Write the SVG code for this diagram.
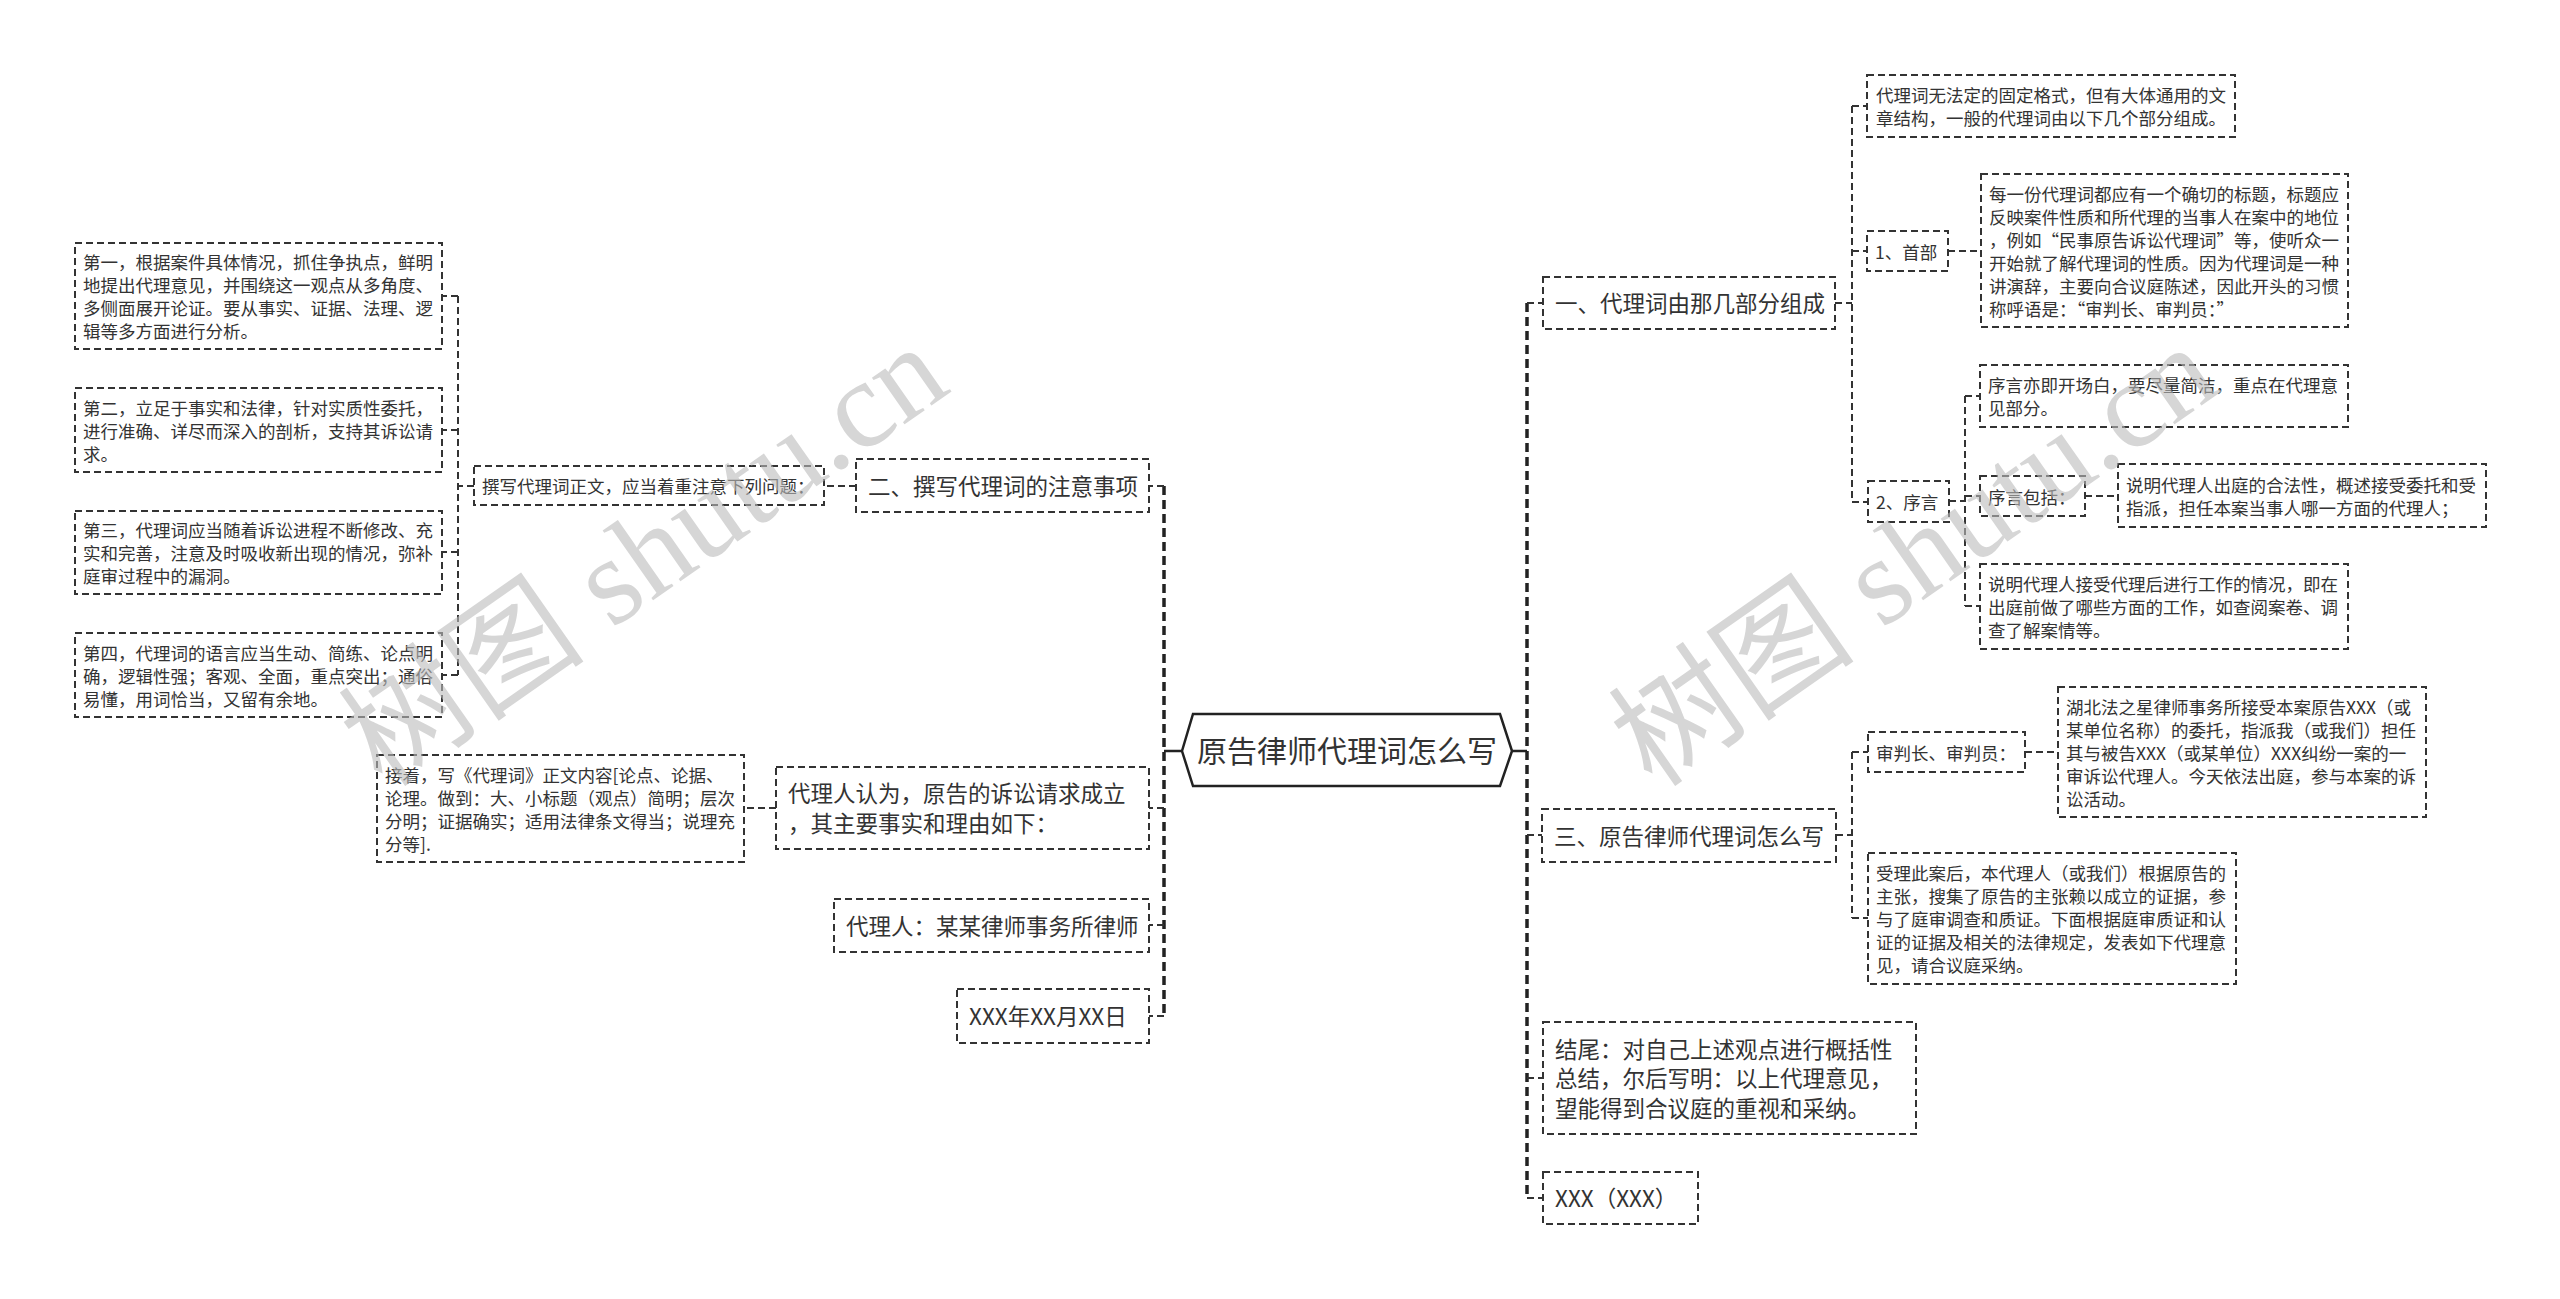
<svg xmlns="http://www.w3.org/2000/svg" width="2560" height="1299" viewBox="0 0 2560 1299">
<style>
.box{fill:#fff;stroke:#333;stroke-width:2;stroke-dasharray:7 4}
.t{font-family:"Noto Sans CJK SC","Noto Sans",sans-serif;fill:#333}
.s{font-size:17.5px}
.m{font-size:22.5px}
.c{fill:none;stroke:#333;stroke-width:2;stroke-dasharray:7 4}
.sp{fill:none;stroke:#222;stroke-width:3.5;stroke-dasharray:9 5}
.sol{fill:none;stroke:#222;stroke-width:2.5}
.wm{font-family:"Liberation Serif","DejaVu Serif","Noto Sans CJK SC",serif;font-size:124px;fill:#bbb;opacity:0.6}
</style>
<rect width="2560" height="1299" fill="#fff"/>
<g id="connectors">
<path class="sol" d="M1182,751 H1164 M1512,751 H1527"/>
<path class="sp" d="M1164,486 V1016 M1527,303 V1198"/>
<path class="c" d="M1164,486 H1149 M1164,808 H1149 M1164,925 H1149 M1164,1016 H1149"/>
<path class="c" d="M856,486 H824 M474,486 H458 M458,296 V675 M458,296 H442 M458,430 H442 M458,552 H442 M458,675 H442 M776,808 H744"/>
<path class="c" d="M1527,303 H1543 M1527,835 H1542 M1527,1078 H1543 M1527,1198 H1543"/>
<path class="c" d="M1835,303 H1852 M1852,106 V502 M1852,106 H1867 M1852,251 H1867 M1852,502 H1868 M1948,251 H1981"/>
<path class="c" d="M1949,501 H1965 M1965,396 V606 M1965,396 H1980 M1965,496 H1980 M1965,606 H1980 M2085,496 H2118"/>
<path class="c" d="M1836,835 H1852 M1852,752 V918 M1852,752 H1868 M1852,918 H1868 M2025,752 H2058"/>
</g>
<g id="root">
<polygon points="1182,751 1193,714 1500,714 1512,751 1500,786 1193,786" fill="#fff" stroke="#222" stroke-width="2.5"/>
<text class="t" x="1347" y="762" font-size="30" text-anchor="middle">原告律师代理词怎么写</text>
</g>
<g id="n_er"><rect class="box" x="856" y="459" width="293" height="53"/><text class="t m" x="868" y="494.5">二、撰写代理词的注意事项</text></g>
<g id="n_zhuanxie"><rect class="box" x="474" y="466" width="350" height="39"/><text class="t s" x="482" y="493">撰写代理词正文，应当着重注意下列问题：</text></g>
<g id="n_di1"><rect class="box" x="75" y="243" width="367" height="106"/><text class="t s"><tspan x="83" y="269">第一，根据案件具体情况，抓住争执点，鲜明</tspan><tspan x="83" y="292">地提出代理意见，并围绕这一观点从多角度、</tspan><tspan x="83" y="315">多侧面展开论证。要从事实、证据、法理、逻</tspan><tspan x="83" y="338">辑等多方面进行分析。</tspan></text></g>
<g id="n_di2"><rect class="box" x="75" y="388" width="367" height="84"/><text class="t s"><tspan x="83" y="414.5">第二，立足于事实和法律，针对实质性委托，</tspan><tspan x="83" y="437.5">进行准确、详尽而深入的剖析，支持其诉讼请</tspan><tspan x="83" y="460.5">求。</tspan></text></g>
<g id="n_di3"><rect class="box" x="75" y="511" width="367" height="83"/><text class="t s"><tspan x="83" y="537">第三，代理词应当随着诉讼进程不断修改、充</tspan><tspan x="83" y="560">实和完善，注意及时吸收新出现的情况，弥补</tspan><tspan x="83" y="583">庭审过程中的漏洞。</tspan></text></g>
<g id="n_di4"><rect class="box" x="75" y="633" width="367" height="84"/><text class="t s"><tspan x="83" y="659.5">第四，代理词的语言应当生动、简练、论点明</tspan><tspan x="83" y="682.5">确，逻辑性强；客观、全面，重点突出；通俗</tspan><tspan x="83" y="705.5">易懂，用词恰当，又留有余地。</tspan></text></g>
<g id="n_renwei"><rect class="box" x="776" y="767" width="373" height="82"/><text class="t m"><tspan x="788" y="802">代理人认为，原告的诉讼请求成立</tspan><tspan x="788" y="832">，其主要事实和理由如下：</tspan></text></g>
<g id="n_jiezhe"><rect class="box" x="377" y="755" width="367" height="107"/><text class="t s"><tspan x="385" y="781.5">接着，写《代理词》正文内容[论点、论据、</tspan><tspan x="385" y="804.5">论理。做到：大、小标题（观点）简明；层次</tspan><tspan x="385" y="827.5">分明；证据确实；适用法律条文得当；说理充</tspan><tspan x="385" y="850.5">分等].</tspan></text></g>
<g id="n_dailiren"><rect class="box" x="834" y="899" width="315" height="53"/><text class="t m" x="846" y="934.5">代理人：某某律师事务所律师</text></g>
<g id="n_date"><rect class="box" x="957" y="989" width="192" height="54"/><text class="t m" x="969" y="1025">XXX年XX月XX日</text></g>
<g id="n_yi"><rect class="box" x="1543" y="277" width="292" height="52"/><text class="t m" x="1555" y="312">一、代理词由那几部分组成</text></g>
<g id="n_geshi"><rect class="box" x="1867" y="75" width="368" height="62"/><text class="t s"><tspan x="1876" y="102">代理词无法定的固定格式，但有大体通用的文</tspan><tspan x="1876" y="125">章结构，一般的代理词由以下几个部分组成。</tspan></text></g>
<g id="n_shoubu"><rect class="box" x="1867" y="231" width="81" height="40"/><text class="t s" x="1875" y="258.5">1、首部</text></g>
<g id="n_shoubu_d"><rect class="box" x="1981" y="174" width="367" height="153"/><text class="t s"><tspan x="1989" y="200.5">每一份代理词都应有一个确切的标题，标题应</tspan><tspan x="1989" y="223.5">反映案件性质和所代理的当事人在案中的地位</tspan><tspan x="1989" y="246.5">，例如“民事原告诉讼代理词”等，使听众一</tspan><tspan x="1989" y="269.5">开始就了解代理词的性质。因为代理词是一种</tspan><tspan x="1989" y="292.5">讲演辞，主要向合议庭陈述，因此开头的习惯</tspan><tspan x="1989" y="315.5">称呼语是：“审判长、审判员：”</tspan></text></g>
<g id="n_xuyan"><rect class="box" x="1868" y="481" width="81" height="41"/><text class="t s" x="1876" y="509">2、序言</text></g>
<g id="n_xuyan1"><rect class="box" x="1980" y="365" width="368" height="62"/><text class="t s"><tspan x="1988" y="392">序言亦即开场白，要尽量简洁，重点在代理意</tspan><tspan x="1988" y="415">见部分。</tspan></text></g>
<g id="n_baokuo"><rect class="box" x="1980" y="476" width="105" height="40"/><text class="t s" x="1988" y="503.5">序言包括：</text></g>
<g id="n_hefa"><rect class="box" x="2118" y="464" width="368" height="63"/><text class="t s"><tspan x="2126" y="491.5">说明代理人出庭的合法性，概述接受委托和受</tspan><tspan x="2126" y="514.5">指派，担任本案当事人哪一方面的代理人；</tspan></text></g>
<g id="n_gongzuo"><rect class="box" x="1980" y="564" width="368" height="85"/><text class="t s"><tspan x="1988" y="591">说明代理人接受代理后进行工作的情况，即在</tspan><tspan x="1988" y="614">出庭前做了哪些方面的工作，如查阅案卷、调</tspan><tspan x="1988" y="637">查了解案情等。</tspan></text></g>
<g id="n_san"><rect class="box" x="1542" y="809" width="294" height="53"/><text class="t m" x="1554" y="844.5">三、原告律师代理词怎么写</text></g>
<g id="n_shenpan"><rect class="box" x="1868" y="732" width="157" height="40"/><text class="t s" x="1876" y="759.5">审判长、审判员：</text></g>
<g id="n_hubei"><rect class="box" x="2058" y="687" width="368" height="130"/><text class="t s"><tspan x="2066" y="713.5">湖北法之星律师事务所接受本案原告XXX（或</tspan><tspan x="2066" y="736.5">某单位名称）的委托，指派我（或我们）担任</tspan><tspan x="2066" y="759.5">其与被告XXX（或某单位）XXX纠纷一案的一</tspan><tspan x="2066" y="782.5">审诉讼代理人。今天依法出庭，参与本案的诉</tspan><tspan x="2066" y="805.5">讼活动。</tspan></text></g>
<g id="n_shouli"><rect class="box" x="1868" y="853" width="368" height="131"/><text class="t s"><tspan x="1876" y="880">受理此案后，本代理人（或我们）根据原告的</tspan><tspan x="1876" y="903">主张，搜集了原告的主张赖以成立的证据，参</tspan><tspan x="1876" y="926">与了庭审调查和质证。下面根据庭审质证和认</tspan><tspan x="1876" y="949">证的证据及相关的法律规定，发表如下代理意</tspan><tspan x="1876" y="972">见，请合议庭采纳。</tspan></text></g>
<g id="n_jiewei"><rect class="box" x="1543" y="1022" width="373" height="112"/><text class="t m"><tspan x="1555" y="1057.5">结尾：对自己上述观点进行概括性</tspan><tspan x="1555" y="1087">总结，尔后写明：以上代理意见，</tspan><tspan x="1555" y="1116.5">望能得到合议庭的重视和采纳。</tspan></text></g>
<g id="n_xxx"><rect class="box" x="1543" y="1172" width="155" height="52"/><text class="t m" x="1555" y="1207">XXX（XXX）</text></g>
<g id="watermark">
<text class="wm" transform="translate(668,590) rotate(-35)" text-anchor="middle">树图 shutu.cn</text>
<text class="wm" transform="translate(1938,590) rotate(-35)" text-anchor="middle">树图 shutu.cn</text>
</g>
</svg>
